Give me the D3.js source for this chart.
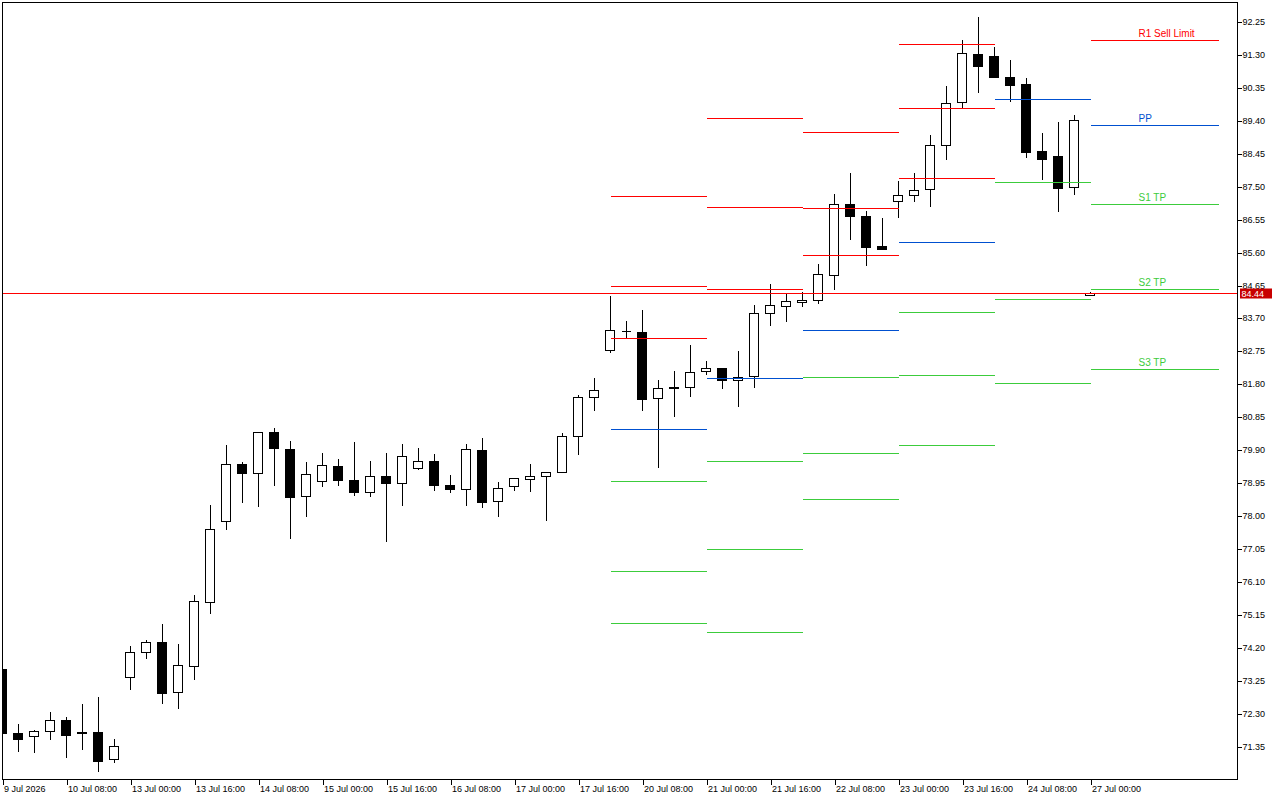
<!DOCTYPE html>
<html>
<head>
<meta charset="utf-8">
<script src="https://d3js.org/d3.v7.min.js"></script>
<style>
  body { margin: 0; background: #fff; }
  svg { display: block; font-family: "Liberation Sans", Arial, sans-serif; }
</style>
</head>
<body>
<svg id="chart" width="1280" height="800"></svg>
<script>
// 4h candles, one entry per bar
const opens = [73.59, 71.74, 71.65, 71.80, 72.11, 71.76, 71.78, 70.99, 73.35, 74.08,
  74.36, 72.92, 73.67, 75.53, 77.85, 79.50, 79.24, 80.42, 79.93, 78.57,
  79.01, 79.44, 79.03, 78.69, 79.15, 78.95, 79.38, 79.58, 78.89, 78.78,
  79.90, 78.43, 78.86, 79.06, 79.15, 79.27, 80.30, 81.43, 82.78, 83.33,
  83.30, 81.40, 81.73, 81.72, 82.18, 82.26, 81.92, 82.03, 83.85, 84.05,
  84.17, 84.23, 84.95, 86.99, 86.65, 85.78, 87.08, 87.25, 87.43, 88.69,
  89.93, 91.33, 91.27, 90.66, 90.46, 88.53, 88.39, 87.48, 84.37];
const highs = [73.59, 72.03, 71.86, 72.38, 72.24, 72.61, 72.82, 71.60, 74.28, 74.45,
  74.91, 74.33, 75.76, 78.35, 80.08, 79.58, 80.42, 80.58, 80.19, 79.58,
  79.84, 79.67, 80.16, 79.61, 79.84, 80.10, 79.99, 79.81, 79.21, 80.10,
  80.27, 79.01, 79.09, 79.53, 79.27, 80.42, 81.51, 82.01, 84.38, 83.65,
  83.97, 81.95, 82.21, 82.96, 82.50, 82.29, 82.78, 84.11, 84.72, 84.46,
  84.48, 85.29, 87.32, 87.92, 86.83, 86.63, 87.69, 87.92, 89.02, 90.43,
  91.76, 92.42, 91.56, 91.18, 90.66, 89.08, 89.40, 89.60, 84.49];
const lows = [71.74, 71.24, 71.21, 71.58, 71.04, 71.27, 70.66, 70.92, 73.00, 73.92,
  72.62, 72.48, 73.31, 75.22, 77.64, 78.42, 78.30, 78.91, 77.38, 78.01,
  78.88, 78.91, 78.62, 78.59, 77.28, 78.33, 79.35, 78.76, 78.69, 78.33,
  78.27, 77.99, 78.76, 78.73, 77.90, 79.27, 79.78, 81.07, 82.74, 83.13,
  81.07, 79.43, 80.90, 81.47, 82.09, 81.69, 81.17, 81.72, 83.50, 83.64,
  84.05, 84.16, 84.56, 86.00, 85.25, 85.71, 86.64, 87.10, 86.95, 88.31,
  89.77, 90.24, 90.67, 89.98, 88.37, 87.73, 86.81, 87.30, 84.37];
const closes = [71.74, 71.57, 71.80, 72.11, 71.70, 71.74, 70.95, 71.37, 74.08, 74.36,
  72.91, 73.70, 75.55, 77.62, 79.50, 79.24, 80.42, 79.95, 78.56, 79.21,
  79.47, 79.03, 78.69, 79.15, 78.95, 79.73, 79.58, 78.89, 78.78, 79.93,
  78.42, 78.80, 79.09, 79.15, 79.27, 80.30, 81.43, 81.63, 83.36, 83.33,
  81.39, 81.69, 81.69, 82.15, 82.26, 81.92, 82.00, 83.85, 84.08, 84.20,
  84.23, 84.97, 86.99, 86.65, 85.77, 85.71, 87.25, 87.40, 88.69, 89.91,
  91.35, 90.99, 90.67, 90.44, 88.51, 88.31, 87.47, 89.42, 84.44];

const lastPrice = 84.44;

// daily pivot segments: bar index where each starts / ends
const pivotStart = [38, 44, 50, 56, 62, 68];
const pivotEnd = [44, 50, 56, 62, 68, 76];
const r3 = [87.22, 89.47, 89.07, 91.61, null, null];
const r2 = [84.64, 86.92, 86.88, 89.76, null, null];
const r1 = [83.13, 84.54, 85.52, 87.74, null, 91.72];
const pp = [80.51, 81.98, 83.36, 85.90, 90.02, 89.27];
const s1 = [79.01, 79.58, 82.00, 83.89, 87.63, 86.99];
const s2 = [76.41, 77.05, 79.81, 82.06, 84.25, 84.54];
const s3 = [74.91, 74.65, 78.49, 80.04, 81.83, 82.24];

// labels on the current day's levels
const levelLabels = ['R1 Sell Limit', 'PP', 'S1 TP', 'S2 TP', 'S3 TP'];
const labelBar = 71;

const yTicks = ['92.25', '91.30', '90.35', '89.40', '88.45', '87.50', '86.55', '85.60',
  '84.65', '83.70', '82.75', '81.80', '80.85', '79.90', '78.95', '78.00', '77.05',
  '76.10', '75.15', '74.20', '73.25', '72.30', '71.35'];

const xTickBars = [0, 4, 8, 12, 16, 20, 24, 28, 32, 36, 40, 44, 48, 52, 56, 60, 64, 68];
const xTickLabels = ['9 Jul 2026', '10 Jul 08:00', '13 Jul 00:00', '13 Jul 16:00',
  '14 Jul 08:00', '15 Jul 00:00', '15 Jul 16:00', '16 Jul 08:00', '17 Jul 00:00',
  '17 Jul 16:00', '20 Jul 08:00', '21 Jul 00:00', '21 Jul 16:00', '22 Jul 08:00',
  '23 Jul 00:00', '23 Jul 16:00', '24 Jul 08:00', '27 Jul 00:00'];

const RED = '#ff0000', BLUE = '#0050d0', GREEN = '#3ccc3c';

const svg = d3.select('#chart');
const plotLeft = 2.5, plotRight = 1237.5, plotTop = 2.5, plotBottom = 779.5;

const x = d3.scaleLinear().domain([0, 68]).range([2.5, 1090.5]);
const y = d3.scaleLinear().domain([71.35, 92.25]).range([746.7, 22]);
const py = v => Math.round(y(v)) + 0.5;

svg.append('clipPath').attr('id', 'plot')
  .append('rect')
  .attr('x', plotLeft).attr('y', plotTop)
  .attr('width', plotRight - plotLeft).attr('height', plotBottom - plotTop);

const plot = svg.append('g').attr('clip-path', 'url(#plot)')
  .attr('shape-rendering', 'crispEdges');

// candles
const bars = d3.range(opens.length);
plot.selectAll('.wick')
  .data(bars)
  .enter()
  .append('line')
  .attr('class', 'wick')
  .attr('x1', i => x(i)).attr('x2', i => x(i))
  .attr('y1', i => py(highs[i])).attr('y2', i => py(lows[i]))
  .attr('stroke', '#000')
  .attr('stroke-width', 1);

plot.selectAll('.body')
  .data(bars)
  .enter()
  .append('path')
  .attr('class', 'body')
  .attr('d', i => {
    const t = py(Math.max(opens[i], closes[i]));
    const b = py(Math.min(opens[i], closes[i]));
    const x0 = x(i) - 5, x1 = x(i) + 4;
    return `M${x0},${t}H${x1}V${b}H${x0}Z`;
  })
  .attr('fill', i => closes[i] < opens[i] ? '#000' : '#fff')
  .attr('stroke', '#000')
  .attr('stroke-width', 1);

// pivot levels
const levelSets = [
  { vals: r3, color: RED }, { vals: r2, color: RED }, { vals: r1, color: RED },
  { vals: pp, color: BLUE },
  { vals: s1, color: GREEN }, { vals: s2, color: GREEN }, { vals: s3, color: GREEN }
];
levelSets.forEach(set => {
  set.vals.forEach((v, j) => {
    if (v == null) return;
    plot.append('line')
      .attr('x1', x(pivotStart[j])).attr('x2', x(pivotEnd[j]))
      .attr('y1', py(v)).attr('y2', py(v))
      .attr('stroke', set.color)
      .attr('stroke-width', 1);
  });
});

// current-day labels
const last = pivotStart.length - 1;
const labelled = [
  { v: r1[last], color: RED }, { v: pp[last], color: BLUE },
  { v: s1[last], color: GREEN }, { v: s2[last], color: GREEN }, { v: s3[last], color: GREEN }
];
labelled.forEach((d, i) => {
  svg.append('text')
    .attr('x', x(labelBar))
    .attr('y', py(d.v) - 4)
    .attr('font-size', 10)
    .attr('fill', d.color)
    .text(levelLabels[i]);
});

// last price line
plot.append('line')
  .attr('x1', plotLeft).attr('x2', plotRight)
  .attr('y1', py(lastPrice)).attr('y2', py(lastPrice))
  .attr('stroke', RED)
  .attr('stroke-width', 1);

// frame
svg.append('rect')
  .attr('x', plotLeft).attr('y', plotTop)
  .attr('width', plotRight - plotLeft).attr('height', plotBottom - plotTop)
  .attr('fill', 'none')
  .attr('stroke', '#000')
  .attr('stroke-width', 1)
  .attr('shape-rendering', 'crispEdges');

// price axis
const yAxis = svg.append('g')
  .attr('transform', `translate(${plotRight},0)`)
  .attr('shape-rendering', 'crispEdges')
  .call(d3.axisRight(y)
    .tickValues(yTicks.map(Number))
    .tickFormat(d3.format('.2f'))
    .tickSize(4)
    .tickPadding(1));
yAxis.select('.domain').remove();
yAxis.selectAll('.tick').attr('transform', d => `translate(0,${py(d)})`);
yAxis.selectAll('text')
  .attr('font-family', '"Liberation Sans", Arial, sans-serif')
  .attr('font-size', 9)
  .attr('fill', '#000');

// time axis
const xAxis = svg.append('g')
  .attr('transform', `translate(0,${plotBottom})`)
  .attr('shape-rendering', 'crispEdges')
  .call(d3.axisBottom(x)
    .tickValues(xTickBars)
    .tickFormat((d, i) => xTickLabels[i])
    .tickSize(5));
xAxis.select('.domain').remove();
xAxis.selectAll('text')
  .attr('text-anchor', 'start')
  .attr('x', 1)
  .attr('y', 12)
  .attr('dy', null)
  .attr('font-family', '"Liberation Sans", Arial, sans-serif')
  .attr('font-size', 9)
  .attr('fill', '#000');

// last price tag
const tagY = py(lastPrice);
svg.append('rect')
  .attr('x', plotRight + 2.5).attr('y', tagY - 5)
  .attr('width', 32).attr('height', 10)
  .attr('fill', '#c80000');
svg.append('text')
  .attr('x', plotRight + 4).attr('y', tagY + 3.5)
  .attr('font-size', 9)
  .attr('fill', '#fff')
  .text(lastPrice.toFixed(2));
</script>
</body>
</html>
